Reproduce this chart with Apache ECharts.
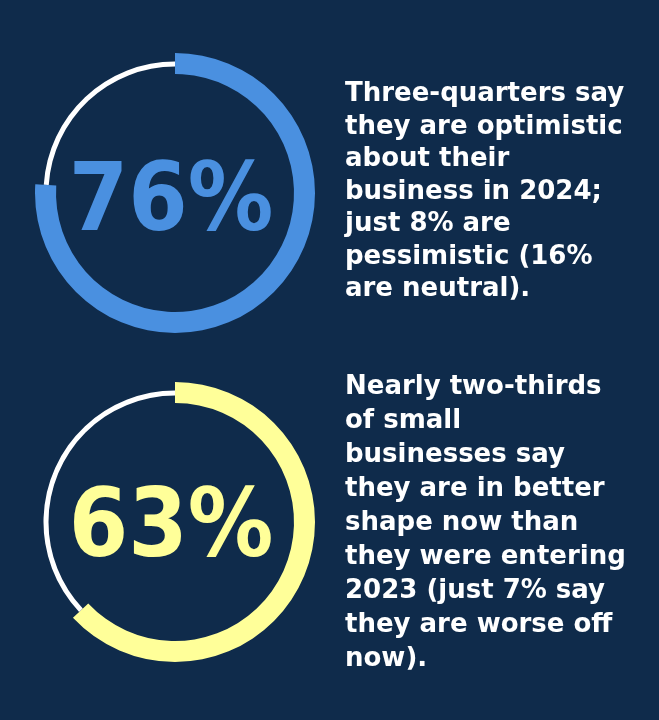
<!DOCTYPE html>
<html>
<head>
<meta charset="utf-8">
<script src="https://cdn.jsdelivr.net/npm/echarts@6/dist/echarts.min.js"></script>
<style>
  html, body { margin: 0; padding: 0; background: #0f2b4b; }
  #chart { width: 659px; height: 720px; }
</style>
</head>
<body>
<div id="chart"></div>
<script>
// 数据
const percents = [76, 63];
const ringColors = ['#4a90e0', '#ffff99'];
const captions = [
  'Three-quarters say\nthey are optimistic\nabout their\nbusiness in 2024;\njust 8% are\npessimistic (16%\nare neutral).',
  'Nearly two-thirds\nof small\nbusinesses say\nthey are in better\nshape now than\nthey were entering\n2023 (just 7% say\nthey are worse off\nnow).'
];

const chart = echarts.init(document.getElementById('chart'), null, { renderer: 'canvas' });

const centersY = [193, 522];
const captionTop = [78, 370];
const captionLH = [32.5, 34];
const series = [];
const graphic = [];

percents.forEach((p, i) => {
  const center = [175, centersY[i]];
  // 白色细环（剩余部分）
  series.push({
    type: 'pie',
    silent: true,
    center: center,
    radius: [126.5, 131.5],
    startAngle: 90,
    clockwise: true,
    label: { show: false },
    labelLine: { show: false },
    data: [
      { value: p, itemStyle: { color: 'transparent' } },
      { value: 100 - p, itemStyle: { color: '#ffffff' } }
    ]
  });
  // 彩色粗环
  series.push({
    type: 'pie',
    silent: true,
    center: center,
    radius: [119, 140],
    startAngle: 90,
    clockwise: true,
    label: { show: false },
    labelLine: { show: false },
    data: [
      { value: p, itemStyle: { color: ringColors[i] } },
      { value: 100 - p, itemStyle: { color: 'transparent' } }
    ]
  });
  // 中间的大数字
  graphic.push({
    type: 'text',
    x: 171,
    y: centersY[i] + (i === 0 ? 12 : 9),
    style: {
      text: p + '%',
      fill: ringColors[i],
      font: 'bold 95px "DejaVu Sans Condensed"',
      align: 'center',
      verticalAlign: 'middle'
    }
  });
  // 右侧说明文字
  graphic.push({
    type: 'text',
    left: 345,
    top: captionTop[i],
    style: {
      text: captions[i],
      fill: '#ffffff',
      font: 'bold 26px "DejaVu Sans"',
      lineHeight: captionLH[i]
    }
  });
});

chart.setOption({
  backgroundColor: '#0f2b4b',
  animation: false,
  series: series,
  graphic: graphic
});
</script>
</body>
</html>
